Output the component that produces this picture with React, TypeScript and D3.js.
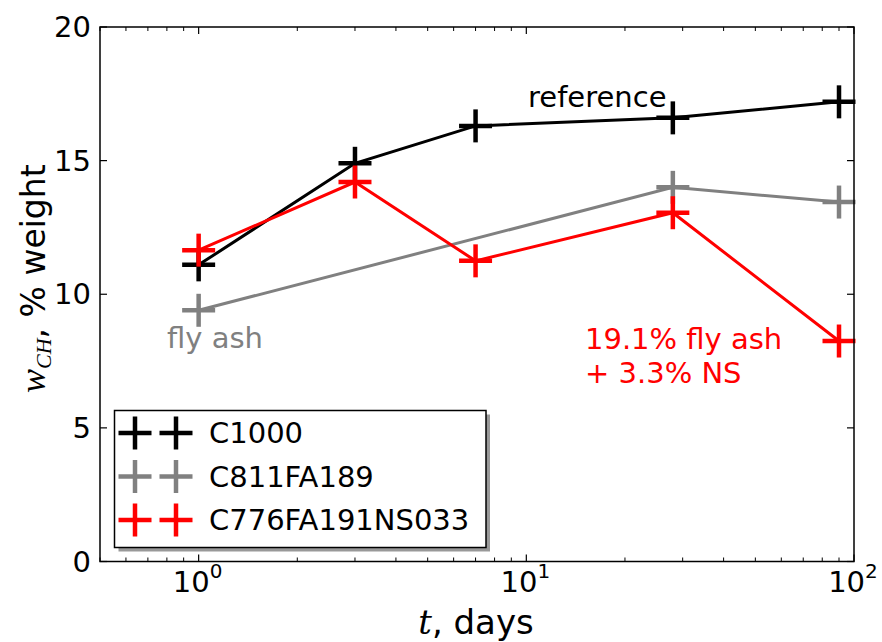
import React from "react";
import * as d3 from "d3";

const W = 882;
const H = 642;

const days1 = [1, 3, 7, 28, 90];
const c1000 = [11.1, 14.9, 16.3, 16.6, 17.2];
const days2 = [1, 28, 90];
const c811 = [9.4, 14.0, 13.45];
const days3 = [1, 3, 7, 28, 90];
const c776 = [11.65, 14.2, 11.25, 13.05, 8.25];

const seriesNames = ["C1000", "C811FA189", "C776FA191NS033"];
const seriesColors = ["#000000", "#808080", "#ff0000"];
const yTicks = [0, 5, 10, 15, 20];
const xMajor = [1, 10, 100];
const xMajorExp = ["0", "1", "2"];

const FONT = "'DejaVu Sans', sans-serif";
const FS = 29;

export default function App() {
  const m = { l: 100, r: 854, t: 27, b: 561.5 };
  const x = d3.scaleLog().domain([0.5, 100]).range([m.l, m.r]);
  const y = d3.scaleLinear().domain([0, 20]).range([m.b, m.t]);

  const series = [
    { xs: days1, ys: c1000 },
    { xs: days2, ys: c811 },
    { xs: days3, ys: c776 },
  ];
  const line = d3
    .line<[number, number]>()
    .x((d) => x(d[0]))
    .y((d) => y(d[1]));

  const minor: number[] = [];
  for (const dec of [0.1, 1, 10]) {
    for (let k = 2; k <= 9; k++) {
      const v = dec * k;
      if (v >= 0.5 && v <= 100) minor.push(v);
    }
  }

  const ms = 16.5; // half marker size
  const plus = (cx: number, cy: number, color: string, key: string) => (
    <g key={key} stroke={color} strokeWidth={4.5}>
      <line x1={cx - ms} x2={cx + ms} y1={cy} y2={cy} />
      <line x1={cx} x2={cx} y1={cy - ms} y2={cy + ms} />
    </g>
  );

  const leg = { x: 114.5, y: 410.5, w: 371.5, h: 137 };

  return (
    <div style={{ position: "absolute", left: 0, top: 0 }}>
      <svg width={W} height={H} style={{ display: "block", background: "#fff" }}>
        <rect x={0} y={0} width={W} height={H} fill="#fff" />
        {series.map((s, i) => (
          <path
            key={"l" + i}
            d={line(s.xs.map((v, j) => [v, s.ys[j]] as [number, number])) || ""}
            fill="none"
            stroke={seriesColors[i]}
            strokeWidth={3}
          />
        ))}
        {series.map((s, i) => (
          <g key={"m" + i}>
            {s.xs.map((v, j) => plus(x(v), y(s.ys[j]), seriesColors[i], `p${i}-${j}`))}
          </g>
        ))}
        <text x={528} y={107} fontFamily={FONT} fontSize={FS} fill="#000">
          reference
        </text>
        <text x={167} y={348} fontFamily={FONT} fontSize={FS} fill="#808080">
          fly ash
        </text>
        <text x={585} y={349} fontFamily={FONT} fontSize={FS} fill="#ff0000">
          19.1% fly ash
        </text>
        <text x={585} y={383} fontFamily={FONT} fontSize={FS} fill="#ff0000">
          + 3.3% NS
        </text>
        <rect
          x={m.l}
          y={m.t}
          width={m.r - m.l}
          height={m.b - m.t}
          fill="none"
          stroke="#000"
          strokeWidth={1.5}
        />
        {yTicks.map((t) => (
          <g key={"y" + t}>
            <line x1={m.l} x2={m.l + 7} y1={y(t)} y2={y(t)} stroke="#000" strokeWidth={1.2} />
            <line x1={m.r} x2={m.r - 7} y1={y(t)} y2={y(t)} stroke="#000" strokeWidth={1.2} />
            <text
              x={91}
              y={y(t)}
              textAnchor="end"
              dominantBaseline="central"
              fontFamily={FONT}
              fontSize={FS}
            >
              {t}
            </text>
          </g>
        ))}
        {xMajor.map((t) => (
          <g key={"x" + t}>
            <line x1={x(t)} x2={x(t)} y1={m.b} y2={m.b - 7} stroke="#000" strokeWidth={1.2} />
            <line x1={x(t)} x2={x(t)} y1={m.t} y2={m.t + 7} stroke="#000" strokeWidth={1.2} />
          </g>
        ))}
        {minor.map((t) => (
          <g key={"xm" + t}>
            <line x1={x(t)} x2={x(t)} y1={m.b} y2={m.b - 4} stroke="#000" strokeWidth={1} />
            <line x1={x(t)} x2={x(t)} y1={m.t} y2={m.t + 4} stroke="#000" strokeWidth={1} />
          </g>
        ))}
        {xMajor.map((t, i) => (
          <text
            key={"xl" + t}
            x={x(t) - 1}
            y={592}
            textAnchor="middle"
            fontFamily={FONT}
            fontSize={FS}
          >
            10
            <tspan dy={-14} fontSize={20}>
              {xMajorExp[i]}
            </tspan>
          </text>
        ))}
        <text x={476} y={634} textAnchor="middle" fontFamily={FONT} fontSize={34}>
          <tspan fontFamily="'DejaVu Serif', serif" fontStyle="italic">
            t
          </tspan>
          , days
        </text>
        <text
          transform={`translate(45, 393) rotate(-90)`}
          fontFamily={FONT}
          fontSize={33}
        >
          <tspan fontFamily="'Liberation Serif', serif" fontStyle="italic" fontSize={36}>
            w
          </tspan>
          <tspan fontFamily="'Liberation Serif', serif" fontStyle="italic" fontSize={22} dy={6}>
            CH
          </tspan>
          <tspan dy={-6}>, % weight</tspan>
        </text>
        <rect x={leg.x + 4} y={leg.y + 4} width={leg.w} height={leg.h} fill="#999" />
        <rect
          x={leg.x}
          y={leg.y}
          width={leg.w}
          height={leg.h}
          fill="#fff"
          stroke="#000"
          strokeWidth={1.5}
        />
        {seriesNames.map((n, i) => {
          const cy = 433 + i * 43.5;
          return (
            <g key={"lg" + i}>
              {plus(135, cy, seriesColors[i], `lga${i}`)}
              {plus(176, cy, seriesColors[i], `lgb${i}`)}
              <text
                x={209}
                y={cy}
                dominantBaseline="central"
                fontFamily={FONT}
                fontSize={FS}
              >
                {n}
              </text>
            </g>
          );
        })}
      </svg>
    </div>
  );
}
